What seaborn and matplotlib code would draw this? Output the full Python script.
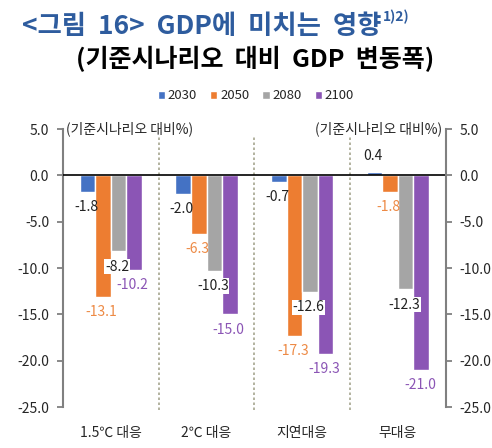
import numpy as np
import pandas as pd
import matplotlib
matplotlib.use('Agg')
import matplotlib.pyplot as plt
import seaborn as sns

# data
scenarios = ['1.5℃ 대응', '2℃ 대응', '지연대응', '무대응']
years = ['2030', '2050', '2080', '2100']
gdp_2030 = [-1.8, -2.0, -0.7, 0.4]
gdp_2050 = [-13.1, -6.3, -17.3, -1.8]
gdp_2080 = [-8.2, -10.3, -12.6, -12.3]
gdp_2100 = [-10.2, -15.0, -19.3, -21.0]
y_ticks = [5.0, 0.0, -5.0, -10.0, -15.0, -20.0, -25.0]

colors = ['#4472C4', '#ED7D31', '#A5A5A5', '#8B55B5']
label_colors = ['#222222', '#ED8A45', '#222222', '#8B55B5']


def main():
    # long-format dataset
    values = [gdp_2030, gdp_2050, gdp_2080, gdp_2100]
    rows = []
    for year, vals in zip(years, values):
        for sc, v in zip(scenarios, vals):
            rows.append({'scenario': sc, 'year': year, 'value': v})
    dataset = pd.DataFrame(rows)

    # aesthetics pre-update
    sns.set_style('white')
    plt.rcParams['font.family'] = ['Noto Sans CJK KR', 'DejaVu Sans']

    fig = plt.figure(figsize=(4.92, 4.48), dpi=100)
    ax = fig.add_axes([0.128, 0.0915, 0.778, 0.6205])

    sns.barplot(data=dataset, x='scenario', y='value', hue='year',
                order=scenarios, hue_order=years, palette=colors,
                width=0.65, gap=0, saturation=1, ax=ax, legend=True)

    ax.set_ylim(-25, 5)
    ax.set_xlim(-0.5, 3.5)
    ax.set_yticks(y_ticks)
    ax.set_yticklabels([f'{t:.1f}' for t in y_ticks])
    ax.set_xlabel('')
    ax.set_ylabel('')

    # zero line & separators
    ax.axhline(0, color='black', linewidth=1.2, zorder=3)
    for xs in [0.5, 1.5, 2.5]:
        ax.plot([xs, xs], [-25.3, 4.2], color='#A5A58F', linestyle=(0, (1.5, 1.5)),
                linewidth=1.2, clip_on=False, zorder=1)

    # spines
    for side in ['top', 'bottom', 'right']:
        ax.spines[side].set_visible(False)
    ax.spines['left'].set_color('#808080')
    ax.spines['left'].set_linewidth(1.5)
    ax.tick_params(axis='y', direction='out', length=4, width=1.3, color='#808080',
                   labelsize=10, labelcolor='#262626', pad=6)
    ax.tick_params(axis='x', length=0, labelsize=10, labelcolor='#262626', pad=14)

    ax2 = ax.twinx()
    ax2.set_ylim(-25, 5)
    ax2.set_yticks(y_ticks)
    ax2.set_yticklabels([f'{t:.1f}' for t in y_ticks])
    for side in ['top', 'bottom', 'left']:
        ax2.spines[side].set_visible(False)
    ax2.spines['right'].set_color('#808080')
    ax2.spines['right'].set_linewidth(1.5)
    ax2.tick_params(axis='y', direction='out', length=4, width=1.3, color='#808080',
                    labelsize=10, labelcolor='#262626', pad=6)
    ax2.grid(False)

    # data labels
    for i, container in enumerate(ax.containers):
        for bar, v in zip(container, values[i]):
            xc = bar.get_x() + bar.get_width() / 2
            off = 11 if v > 0 else -11
            bbox = dict(facecolor='white', edgecolor='none', pad=0.5) if i == 2 else None
            ax.annotate(f'{v:.1f}', xy=(xc, v), xytext=(-1, off), textcoords='offset points',
                        ha='center', va='center', fontsize=10, color=label_colors[i],
                        bbox=bbox, zorder=5)

    # unit labels
    ax.text(0.008, 1.0, '(기준시나리오 대비%)', transform=ax.transAxes,
            ha='left', va='center', fontsize=10, color='#262626')
    ax.text(0.99, 1.0, '(기준시나리오 대비%)', transform=ax.transAxes,
            ha='right', va='center', fontsize=10, color='#262626')

    # legend
    ax.legend(loc='center', bbox_to_anchor=(0.52, 0.786), bbox_transform=fig.transFigure,
              ncol=4, frameon=False, fontsize=9.5, handlelength=0.55, handleheight=0.55,
              handletextpad=0.2, columnspacing=1.0)

    # titles
    t1 = fig.text(22 / 492, 1 - 26 / 448, '<그림  16>  GDP에  미치는  영향', ha='left', va='center',
                  fontsize=19, fontweight='bold', color='#2E5C9E')
    fig.canvas.draw()
    bb = t1.get_window_extent(renderer=fig.canvas.get_renderer())
    fig.text((bb.x1 + 2) / 492, 1 - 17 / 448, '1)2)', ha='left', va='center',
             fontsize=10, fontweight='bold', color='#2E5C9E')
    fig.text(255 / 492, 1 - 59 / 448, '(기준시나리오  대비  GDP  변동폭)', ha='center', va='center',
             fontsize=18, fontweight='bold', color='black')

    fig.savefig('out.png', dpi=100)
    plt.close(fig)


if __name__ == '__main__':
    main()
